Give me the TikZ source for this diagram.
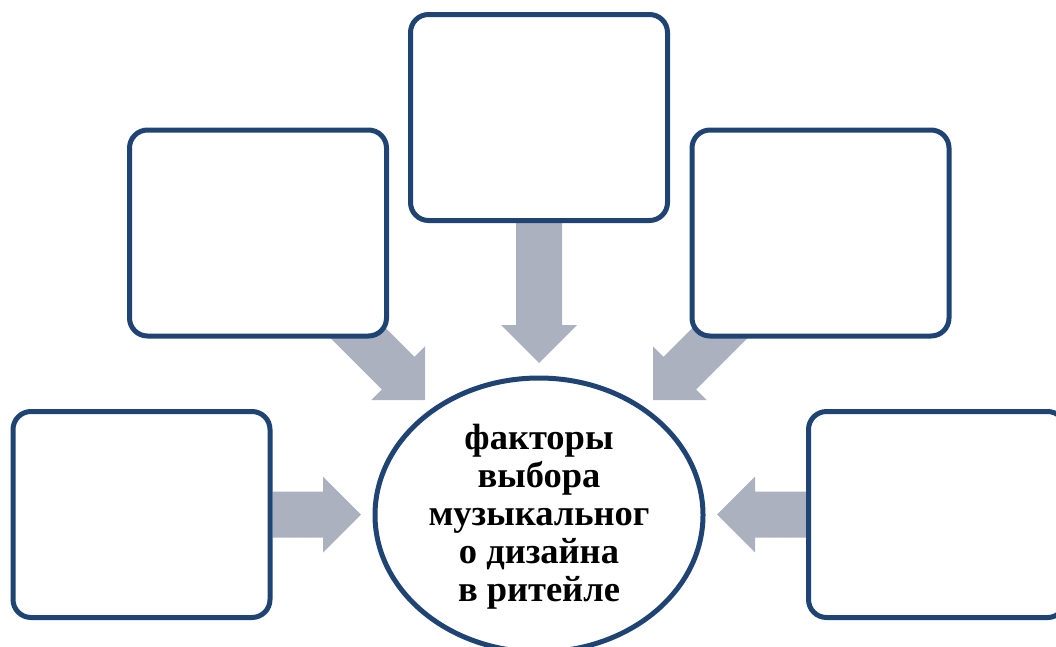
\documentclass[tikz,border=0pt]{standalone}
\usepackage{fontspec}
\setmainfont{Liberation Serif}
\usetikzlibrary{calc,shapes.geometric}
\pgfdeclarelayer{bg}
\pgfsetlayers{bg,main}
\definecolor{frameblue}{HTML}{1F4474}
\definecolor{arrowgrey}{HTML}{ABB1BF}
\tikzset{
  factorbox/.style={draw=frameblue, line width=5pt, fill=white,
    rounded corners=18pt, minimum width=257pt, minimum height=206pt,
    inner sep=0pt},
  core/.style={ellipse, draw=frameblue, line width=5pt, fill=white,
    minimum width=328pt, minimum height=274pt, inner sep=0pt},
  coretext/.style={align=center, font=\fontsize{36.5}{38}\selectfont\bfseries}
}
% block arrow from #1 to tip #2: shaft 46, head 76 wide and 38 long
\newcommand\blockarrow[2]{%
  \coordinate (ab) at ($(#2)!38pt!(#1)$);
  \fill[arrowgrey] ($(#1)!23pt!90:(#2)$) -- ($(ab)!23pt!-90:(#1)$)
    -- ($(ab)!38pt!-90:(#1)$) -- (#2) -- ($(ab)!38pt!90:(#1)$)
    -- ($(ab)!23pt!90:(#1)$) -- ($(#1)!23pt!-90:(#2)$) -- cycle;
}
\begin{document}
\begin{tikzpicture}[x=1pt, y=-1pt]
  \useasboundingbox (0,0) rectangle (1056,646);
  \clip (0,0) rectangle (1056,646);

  % surrounding factor boxes
  \node[factorbox] (T)  at (539,117.5) {};
  \node[factorbox] (UL) at (258,233) {};
  \node[factorbox] (UR) at (820.5,233) {};
  \node[factorbox] (L)  at (141.5,514.5) {};
  \node[factorbox] (R)  at (937,514.5) {};

  % central ellipse
  \node[core] (C) at (539,515) {};
  \node[coretext] (Ct) at (539,517)
    {факторы\\выбора\\музыкальног\\о дизайна\\в ритейле};

  % arrow tips and shaft starts
  \coordinate (tT)  at (539,363);
  \coordinate (tL)  at (361,514.5);
  \coordinate (tR)  at (717,514.5);
  \coordinate (tUL) at (425,400);
  \coordinate (tUR) at (653,400);
  \coordinate (sUL) at (325,300);
  \coordinate (sUR) at (753,300);

  \begin{pgfonlayer}{bg}
    \blockarrow{T.south}{tT}
    \blockarrow{L.east}{tL}
    \blockarrow{R.west}{tR}
    \blockarrow{sUL}{tUL}
    \blockarrow{sUR}{tUR}
  \end{pgfonlayer}
\end{tikzpicture}
\end{document}
